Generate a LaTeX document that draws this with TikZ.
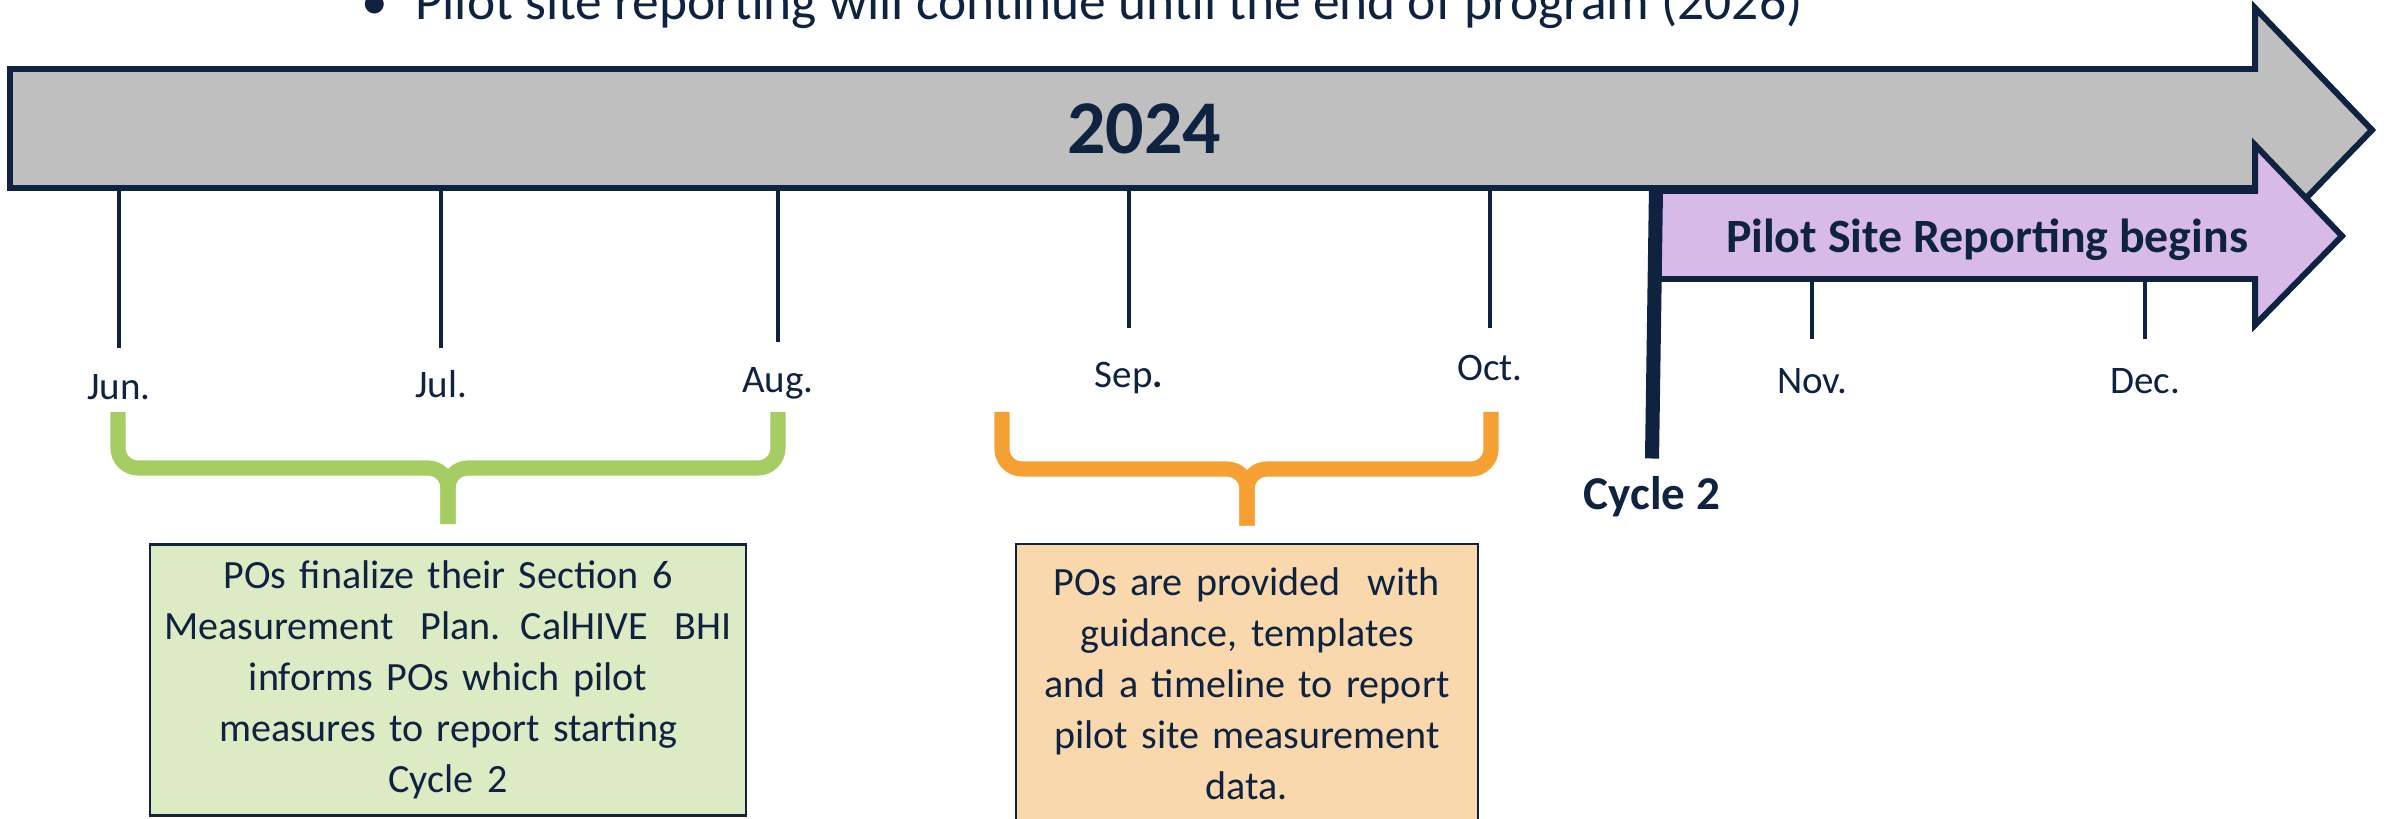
\documentclass[tikz,border=0pt]{standalone}
\usepackage{fontspec}
\setmainfont{Carlito}
\definecolor{navy}{HTML}{0F2341}
\definecolor{bargray}{HTML}{BFBFBF}
\definecolor{lilac}{HTML}{D8BAE9}
\definecolor{leaf}{HTML}{A5CD63}
\definecolor{leaflight}{HTML}{DDEBC5}
\definecolor{amber}{HTML}{F6A034}
\definecolor{amberlight}{HTML}{FAD8AD}
\begin{document}
\begin{tikzpicture}[x=0.01cm,y=-0.01cm,
    every node/.style={text=navy},
    month/.style={anchor=base,font=\fontsize{11.1}{13}\selectfont},
    monthtick/.style={draw=navy,line width=1.1pt},
    outline/.style={draw=navy,line width=1.7pt},
    curlybar/.style={line width=4.3pt,rounded corners=0.2cm},
    pobox/.style={draw=navy,line width=0.7pt,align=center,inner sep=0pt,
        font=\fontsize{11.4}{14.5}\selectfont}]
        \useasboundingbox (0,0) rectangle (2392,819);
        \clip (0,0) rectangle (2392,819);
        %% Note on top
        \node[anchor=base west,font=\fontsize{15.2}{18}\selectfont] (note) at (349,20)
            {\textbullet\hspace{0.27cm}Pilot site reporting will continue until the end of program (2026)};
        %% Arrows
        \draw[outline,fill=bargray] (10,69) -- (2255,69) -- (2255,8) -- (2372,130)
            -- (2255,251) -- (2255,188) -- (10,188) -- cycle;
        \draw[outline,fill=lilac] (1655,191) -- (2255,191) -- (2255,145) -- (2342,236)
            -- (2255,325) -- (2255,279) -- (1655,279) -- cycle;
        \coordinate (barbot) at (10,188);
        \coordinate (lilacbot) at (1655,279);
        \node[font=\fontsize{21.6}{24}\selectfont\bfseries] (year) at (1144,129) {2024};
        \node[anchor=base,font=\fontsize{13.6}{16}\selectfont\bfseries] (begins) at (1987,253)
            {Pilot Site Reporting begins};
        %% Cycle 2
        \node[anchor=base,font=\fontsize{13.4}{16}\selectfont\bfseries] (cyc) at (1652,509) {Cycle 2};
        \coordinate (cyctop) at (1656,187);
        \draw[navy,line width=4pt] (cyctop) -- ([yshift=0.05cm]cyc.north);
        %% Months
        \node[month] (jun) at (119,400) {Jun.};
        \node[month] (jul) at (441,398) {Jul.};
        \node[month] (aug) at (778,393) {Aug.};
        \node[month] (sep) at (1129,388) {Sep{\bfseries .}};
        \node[month] (oct) at (1490,381) {Oct.};
        \node[month] (nov) at (1812,394) {Nov.};
        \node[month] (dec) at (2145,394) {Dec.};
        \draw[monthtick] ([yshift=0.52cm]jun.base) -- (jun.base |- barbot);
        \draw[monthtick] ([yshift=0.50cm]jul.base) -- (jul.base |- barbot);
        \draw[monthtick] ([yshift=0.51cm]aug.base) -- (aug.base |- barbot);
        \draw[monthtick] ([yshift=0.60cm]sep.base) -- (sep.base |- barbot);
        \draw[monthtick] ([yshift=0.53cm]oct.base) -- (oct.base |- barbot);
        \draw[monthtick] ([yshift=0.55cm]nov.base) -- (nov.base |- lilacbot);
        \draw[monthtick] ([yshift=0.55cm]dec.base) -- (dec.base |- lilacbot);
        %% Boxes
        \node[pobox,fill=leaflight,text width=5.96cm,minimum height=2.71cm] (plan) at (448,680)
            {POs finalize their Section 6\\ Measurement~ Plan. CalHIVE~ BHI\\ informs POs which pilot\\
             measures to report starting\\ Cycle 2};
        \node[pobox,fill=amberlight,text width=4.62cm,minimum height=2.8cm] (guide) at (1247,684)
            {POs are provided~ with\\ guidance, templates\\ and a timeline to report\\
             pilot site measurement\\ data.};
        %% Braces
        \draw[curlybar,leaf] (118,412) |- (plan.north |- 0,468) -- ([yshift=0.19cm]plan.north);
        \draw[curlybar,leaf] (778,412) |- (plan.north |- 0,468) -- ([yshift=0.19cm]plan.north);
        \draw[curlybar,amber] (1002,412) |- (guide.north |- 0,469) -- ([yshift=0.17cm]guide.north);
        \draw[curlybar,amber] (1491,412) |- (guide.north |- 0,469) -- ([yshift=0.17cm]guide.north);
    \end{tikzpicture}
\end{document}
